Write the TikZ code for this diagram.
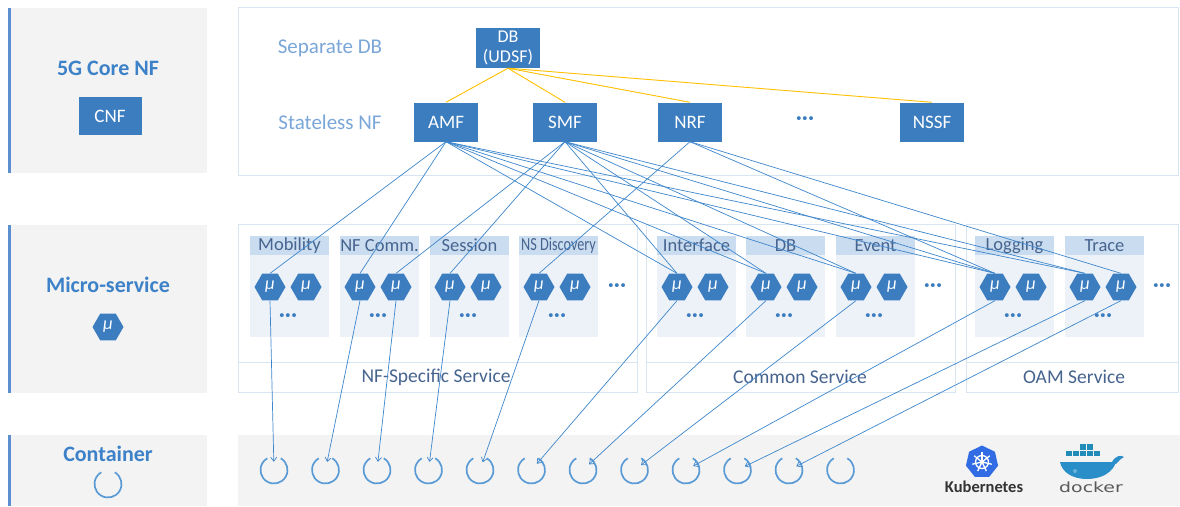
\documentclass[tikz,border=0pt]{standalone}
\usepackage{fontspec}
\setmainfont{Carlito}
\newfontfamily\dockerfont{DejaVu Sans}
\usetikzlibrary{shapes.geometric,arrows.meta}

\definecolor{nfblue}{RGB}{60,125,192}
\definecolor{titleblue}{RGB}{61,130,200}
\definecolor{paleblue}{RGB}{122,166,216}
\definecolor{panelgray}{RGB}{243,243,243}
\definecolor{boxline}{RGB}{216,229,242}
\definecolor{headfill}{RGB}{202,220,239}
\definecolor{bodyfill}{RGB}{236,242,248}
\definecolor{headtext}{RGB}{70,100,143}
\definecolor{linkblue}{RGB}{62,134,204}
\definecolor{dbyellow}{RGB}{255,192,0}
\definecolor{ringblue}{RGB}{91,155,213}
\definecolor{barblue}{RGB}{91,143,208}
\definecolor{kubeblue}{RGB}{50,108,229}
\definecolor{dockblue}{RGB}{42,143,200}

\begin{document}
\begin{tikzpicture}[x=1pt,y=-1pt]
\tikzstyle{every node}=[inner sep=0pt,font=\fontsize{18.5}{20}\selectfont];
\tikzstyle{lefttitle}=[text=titleblue,font=\fontsize{22}{24}\selectfont\bfseries];
\tikzstyle{layertext}=[text=paleblue,font=\fontsize{21}{23}\selectfont];
\tikzstyle{nfbox}=[fill=nfblue,text=white,minimum width=64,minimum height=39,font=\fontsize{19}{21}\selectfont];
\tikzstyle{grouphead}=[fill=headfill,text=headtext,minimum width=79,minimum height=19];
\tikzstyle{svcname}=[text=headtext,font=\fontsize{19.5}{21}\selectfont];
\tikzstyle{hex}=[regular polygon,regular polygon sides=6,fill=nfblue,minimum size=31,text=white,font=\fontsize{18}{18}\selectfont\itshape];
\tikzstyle{moredots}=[text=nfblue,font=\fontsize{21}{21}\selectfont\bfseries];
\tikzstyle{ctr}=[circle,minimum size=16];
\tikzstyle{ctrring}=[draw=ringblue,line width=1.7];
\tikzstyle{svclink}=[draw=linkblue,line width=0.7];
\tikzstyle{dblink}=[draw=dbyellow,line width=0.9];
\newcommand{\moredotstext}{·\kern0.5pt·\kern0.5pt·}

\useasboundingbox (0,0) rectangle (1180,506);
\fill[white] (0,0) rectangle (1180,506);

% left column
\foreach \ya/\yb in {8/173,225/393,435/506} {
	\fill[panelgray] (11,\ya) rectangle (207,\yb);
	\draw[barblue,line width=3] (9.5,\ya) -- (9.5,\yb);
}
\node[lefttitle] (core) at (108,68) {5G Core NF};
\node[nfbox,minimum width=63,minimum height=38] (cnf) at (110,116) {CNF};
\node[lefttitle] (micro) at (108,285) {Micro-service};
\node[hex] (microicon) at (108,327) {μ};
\node[lefttitle] (cont) at (108,454) {Container};
\node[ctr] (conticon) at (108,484) {};
\draw[ctrring] (conticon.center) ++(-60:13.5) arc (-60:240:13.5);

% NF layer
\draw[boxline] (238,7) rectangle (1178,175);
\node[layertext] (sepdb) at (330,48) {Separate DB};
\node[layertext] (stateless) at (330,122) {Stateless NF};
\node[nfbox,minimum height=40,align=center,font=\fontsize{18}{19.5}\selectfont] (db) at (508,48) {DB\\(UDSF)};
\node[nfbox] (amf) at (446,122) {AMF};
\node[nfbox] (smf) at (565,122) {SMF};
\node[nfbox] (nrf) at (690,122) {NRF};
\node[moredots] (nfdots) at (805,121) {\moredotstext};
\node[nfbox] (nssf) at (932,122) {NSSF};
\foreach \n in {amf,smf,nrf,nssf}
	\draw[dblink] (db.south) -- (\n.north);

% micro-service layer
\foreach \xa/\xb/\xc/\sname in {238/637/436/NF-Specific Service,646/955/800/Common Service,966/1178/1074/OAM Service} {
	\draw[boxline] (\xa,224) rectangle (\xb,392);
	\draw[boxline] (\xa,362) -- (\xb,362);
	\node[svcname] at (\xc,377) {\sname};
}
\foreach \gx/\gname/\gid in {250/Mobility/mob,340/NF Comm./nfc,430/Session/ses,519/{\scalebox{0.77}[1]{NS Discovery}}/nsd,657/Interface/int,746/DB/dbs,836/Event/evt,975/Logging/log,1065/Trace/trc} {
	\fill[bodyfill] (\gx,255) rectangle (\gx+79,337);
	\node[grouphead] (\gid) at (\gx+39.5,245.5) {\gname};
	\node[hex] (\gid1) at (\gx+20,287) {μ};
	\node[hex] (\gid2) at (\gx+56,287) {μ};
	\node[moredots] at (\gx+38,318) {\moredotstext};
}
\foreach \dx in {617,933,1162}
	\node[moredots] at (\dx,288) {\moredotstext};

% NF to micro-service
\foreach \t in {mob1,nfc1,int1,dbs1,evt1,log1,trc1}
	\draw[svclink] (amf.south) -- (\t.north);
\foreach \t in {nfc2,ses1,int1,dbs1,evt1,log1,trc1}
	\draw[svclink] (smf.south) -- (\t.north);
\foreach \t in {nsd1,log1,trc2}
	\draw[svclink] (nrf.south) -- (\t.north);

% container layer
\fill[panelgray] (238,435) rectangle (1180,506);
\foreach \i in {1,...,12} {
	\node[ctr] (k\i) at ({274+(\i-1)*51.5},470) {};
	\draw[ctrring] (k\i.center) ++(-60:13.5) arc (-60:240:13.5);
}
\foreach \s/\k in {mob1/1,nfc1/2,nfc2/3,ses1/4,nsd1/5,int1/6,dbs1/7,evt1/8,log1/9,trc1/10,trc2/11}
	\draw[svclink,-{Straight Barb[length=4pt,width=6pt]}] (\s.south) -- (k\k);

% logos
\node[regular polygon,regular polygon sides=7,fill=kubeblue,minimum size=33] (kube) at (982,462) {};
\draw[white,line width=1.3] (kube.center) circle (6.5);
\foreach \a in {0,...,6}
	\draw[white,line width=1.3] (kube.center) -- ++({-90+\a*360/7}:10);
\fill[white] (kube.center) circle (2.2);
\node[font=\fontsize{16.5}{18}\selectfont\bfseries,text=black!80] (kubename) at (984,487) {Kubernetes};

\fill[dockblue] (1060,462) -- (1116,462) .. controls (1113,472) and (1102,479) .. (1087,479) .. controls (1072,479) and (1062,472) .. (1060,462) -- cycle;
\fill[dockblue] (1112,462) .. controls (1116,455) and (1121,455) .. (1124,457) .. controls (1120,459) and (1118,462) .. (1116,464) -- cycle;
\foreach \cx in {1066,1073,1080,1087,1094}
	\fill[dockblue!80!teal] (\cx,456) rectangle ++(6,-5.5);
\foreach \cx in {1080,1087}
	\fill[dockblue!80!teal] (\cx,449.5) rectangle ++(6,-5.5);
\fill[dockblue!70!white] (1075,471) circle (2);
\node[font=\dockerfont\fontsize{14}{16}\selectfont,text=black!65] (dockname) at (1091,487) {\scalebox{1.35}[1]{docker}};
\end{tikzpicture}
\end{document}
